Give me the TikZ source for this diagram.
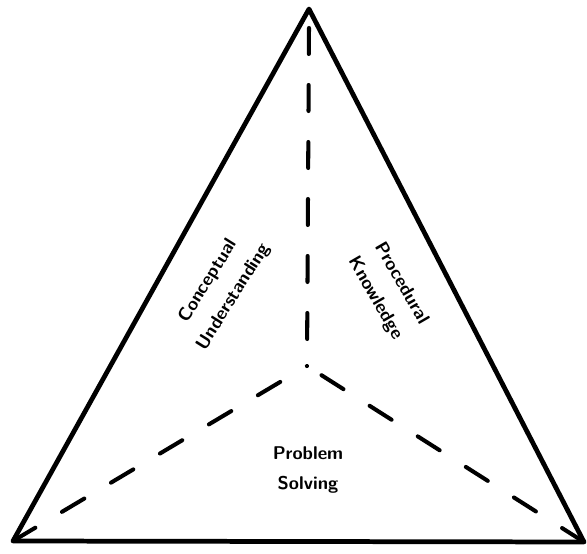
\documentclass[tikz,border=0pt]{standalone}
\usepackage{tikz}
\usetikzlibrary{positioning}

\begin{document}
\begin{tikzpicture}[
        edge/.style={line width=2.7pt, line join=round, line cap=round},
        spoke/.style={line width=2.3pt, line cap=round, dash pattern=on 0.52cm off 0.62cm},
        label/.style={align=center, font=\fontsize{10.5}{17}\selectfont\sffamily\bfseries}
    ]
    \useasboundingbox (0,0) rectangle (11.74,11.08);

    % Corners and centre
    \coordinate (top) at (6.18, 10.9);
    \coordinate (left) at (0.26, 0.26);
    \coordinate (right) at (11.68, 0.24);
    \coordinate (mid) at (6.14, 3.76);

    % Outer triangle
    \draw[edge] (top) -- (left) -- (right) -- cycle;

    % Dashed spokes
    \draw[spoke] (top) ++(0,-0.38) -- (mid);
    \draw[spoke] (left) -- (mid);
    \draw[spoke] (right) -- (mid);

    % Region labels
    \node[label, rotate=58] (conceptual) at (4.42, 5.3) {Conceptual\\Understanding};
    \node[label, rotate=-60] (procedural) at (7.76, 5.26) {Procedural\\Knowledge};
    \node[label] (problem) at (6.16, 1.68) {Problem\\Solving};

\end{tikzpicture}
\end{document}
